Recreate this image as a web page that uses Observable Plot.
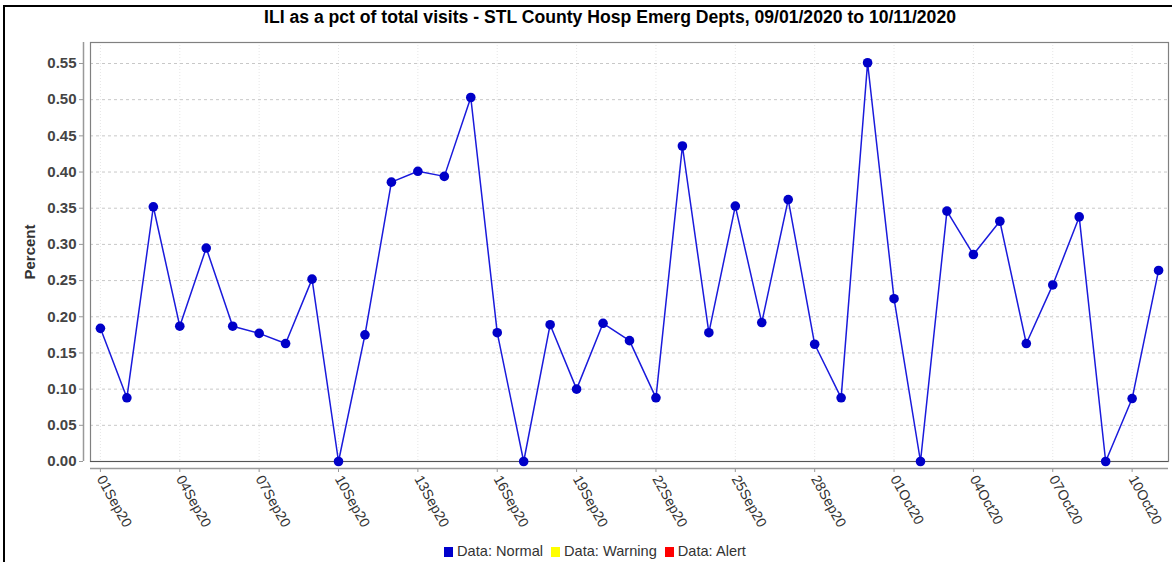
<!DOCTYPE html>
<html>
<head>
<meta charset="utf-8">
<script src="https://cdn.jsdelivr.net/npm/d3@7"></script>
<script src="https://cdn.jsdelivr.net/npm/@observablehq/plot@0.6"></script>
<style>
  html, body { margin: 0; padding: 0; background: #fff; }
  #wrap { position: relative; width: 1172px; height: 562px; overflow: hidden; font-family: "Liberation Sans", Arial, sans-serif; }
  #border { position: absolute; left: 3px; top: 5px; width: 1200px; height: 600px; border-left: 2px solid #000; border-top: 2px solid #000; box-sizing: border-box; }
  #title { position: absolute; left: 0; top: 7px; width: 1220px; text-align: center; font-weight: bold; font-size: 17.6px; color: #000; }
  #legend { position: absolute; left: 0; top: 543px; width: 1190px; text-align: center; font-size: 14.6px; color: #333; }
  #legend span.item { margin: 0 4px; }
  #legend span.sw { display: inline-block; width: 9px; height: 10px; margin-right: 4px; vertical-align: -1px; }
  #chart { position: absolute; left: 0; top: 0; }
</style>
</head>
<body>
<div id="wrap">
  <div id="chart"></div>
  <div id="border"></div>
  <div id="title">ILI as a pct of total visits - STL County Hosp Emerg Depts, 09/01/2020 to 10/11/2020</div>
  <div id="legend"></div>
</div>
<script>
// Daily dates 09/01/2020 .. 10/11/2020
const dateLabels = [
  "2020-09-01","2020-09-02","2020-09-03","2020-09-04","2020-09-05","2020-09-06","2020-09-07",
  "2020-09-08","2020-09-09","2020-09-10","2020-09-11","2020-09-12","2020-09-13","2020-09-14",
  "2020-09-15","2020-09-16","2020-09-17","2020-09-18","2020-09-19","2020-09-20","2020-09-21",
  "2020-09-22","2020-09-23","2020-09-24","2020-09-25","2020-09-26","2020-09-27","2020-09-28",
  "2020-09-29","2020-09-30","2020-10-01","2020-10-02","2020-10-03","2020-10-04","2020-10-05",
  "2020-10-06","2020-10-07","2020-10-08","2020-10-09","2020-10-10","2020-10-11"
];
// ILI percent of total visits
const pctValues = [
  0.184, 0.088, 0.352, 0.187, 0.295, 0.187, 0.177,
  0.163, 0.252, 0.000, 0.175, 0.386, 0.401, 0.394,
  0.503, 0.178, 0.000, 0.189, 0.100, 0.191, 0.167,
  0.088, 0.436, 0.178, 0.353, 0.192, 0.362, 0.162,
  0.088, 0.551, 0.225, 0.000, 0.346, 0.286, 0.332,
  0.163, 0.244, 0.338, 0.000, 0.087, 0.264
];
// Tick labels
const xTickLabels = ["01Sep20","04Sep20","07Sep20","10Sep20","13Sep20","16Sep20","19Sep20","22Sep20","25Sep20","28Sep20","01Oct20","04Oct20","07Oct20","10Oct20"];
const yTickValues = [0, 0.05, 0.10, 0.15, 0.20, 0.25, 0.30, 0.35, 0.40, 0.45, 0.50, 0.55];
const legendNames = ["Data: Normal", "Data: Warning", "Data: Alert"];
const legendColors = ["#0000cc", "#ffff00", "#ff0000"];

const parse = d3.utcParse("%Y-%m-%d");
const fmt = d3.utcFormat("%d%b%y");
const data = dateLabels.map((d, i) => ({date: parse(d), value: pctValues[i]}));
const xTicks = data.map(d => d.date).filter(d => xTickLabels.includes(fmt(d)));
const x0 = d3.utcHour.offset(data[0].date, -9);
const x1 = d3.utcHour.offset(data[data.length - 1].date, 9);

const chart = Plot.plot({
  width: 1172,
  height: 562,
  marginLeft: 90,
  marginRight: 4,
  marginTop: 42,
  marginBottom: 101,
  style: {fontFamily: "'Liberation Sans', Arial, sans-serif", background: "transparent", overflow: "visible"},
  x: {type: "utc", domain: [x0, x1]},
  y: {domain: [0, 0.579]},
  marks: [
    Plot.gridX(xTicks, {stroke: "#e6e6e6", strokeOpacity: 1, strokeDasharray: "1,2"}),
    Plot.gridY(yTickValues, {stroke: "#c8c8c8", strokeOpacity: 1, strokeDasharray: "3,3"}),
    Plot.frame({stroke: "#808080", strokeWidth: 1.2}),
    Plot.ruleY([0], {stroke: "#555", strokeWidth: 1.2}),
    Plot.ruleX([x0], {dx: -7, stroke: "#999", strokeWidth: 1.5}),
    Plot.ruleY([0], {dy: 7, stroke: "#999", strokeWidth: 1.5}),
    Plot.axisY({
      ticks: yTickValues, anchor: "left", tickSize: 4, dx: -7, tickPadding: 3,
      tickFormat: d3.format(".2f"), stroke: "#999",
      fontSize: 15, fontWeight: "bold", fill: "#444",
      label: "Percent", labelAnchor: "center", labelOffset: 66, labelArrow: "none"
    }),
    Plot.axisX({
      ticks: xTicks, anchor: "bottom", tickSize: 4, dy: 7, tickPadding: 4,
      tickFormat: fmt, tickRotate: 61, textAnchor: "start",
      stroke: "#999", fontSize: 14.2, fill: "#333", label: null
    }),
    Plot.line(data, {x: "date", y: "value", stroke: "#1a1adc", strokeWidth: 1.5}),
    Plot.dot(data, {x: "date", y: "value", r: 4.8, fill: "#0000c8", stroke: "none"})
  ]
});
document.getElementById("chart").appendChild(chart);

// style the y label
chart.querySelectorAll("[aria-label='y-axis label'] text, [aria-label='y-axis label']").forEach(el => {
  el.setAttribute("font-weight", "bold");
  el.setAttribute("font-size", "15");
  el.setAttribute("fill", "#333");
});

const legend = document.getElementById("legend");
legendNames.forEach((n, i) => {
  const item = document.createElement("span");
  item.className = "item";
  const sw = document.createElement("span");
  sw.className = "sw";
  sw.style.background = legendColors[i];
  item.appendChild(sw);
  item.appendChild(document.createTextNode(n));
  legend.appendChild(item);
});
</script>
</body>
</html>
